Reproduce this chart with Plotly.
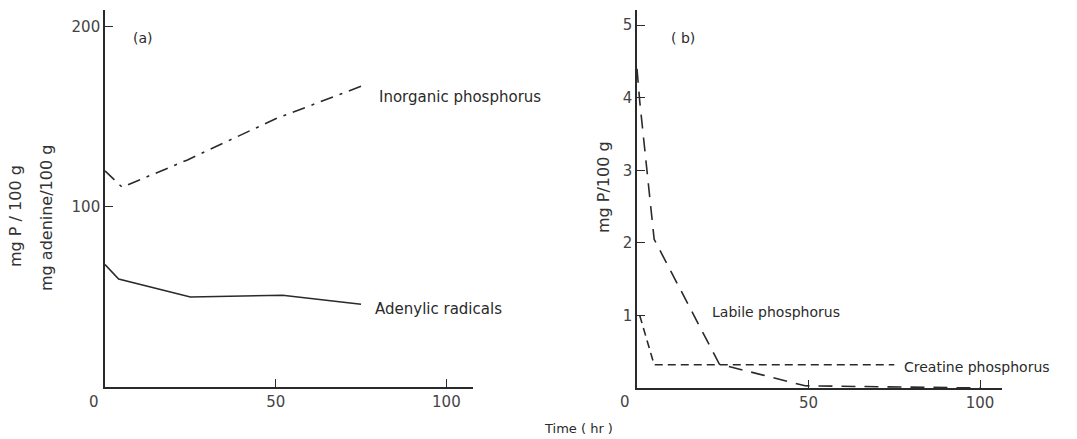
import plotly.graph_objects as go

# Panel (a) data
time_inorg = [0, 5, 24, 50, 75]
inorganic_p = [120, 111, 126, 149, 167]
time_aden = [0, 4, 25, 52, 75]
adenylic = [68, 60, 50, 51, 46]

# Panel (b) data
time_labile = [0, 0.8, 5, 24, 49, 100]
labile_p = [4.4, 3.95, 2.05, 0.33, 0.03, 0.0]
time_creat = [0.8, 5, 75]
creatine_p = [1.0, 0.32, 0.32]

a_yticks = [100, 200]
a_xticks = [50, 100]
b_yticks = [1, 2, 3, 4, 5]
b_xticks = [50, 100]

W, H = 1077, 439
INK = "#2a2a2a"
FONT = "DejaVu Sans"

def px(x):
    return x / W

def py(y):
    return 1 - y / H

fig = go.Figure()
line_w = 1.6
fig.add_trace(go.Scatter(x=time_inorg, y=inorganic_p, mode="lines",
                         line=dict(color=INK, width=line_w, dash="13px,7px,3px,7px"),
                         xaxis="x", yaxis="y", showlegend=False))
fig.add_trace(go.Scatter(x=time_aden, y=adenylic, mode="lines",
                         line=dict(color=INK, width=line_w),
                         xaxis="x", yaxis="y", showlegend=False))
fig.add_trace(go.Scatter(x=time_labile, y=labile_p, mode="lines",
                         line=dict(color=INK, width=line_w, dash="14px,9px"),
                         xaxis="x2", yaxis="y2", showlegend=False))
fig.add_trace(go.Scatter(x=time_creat, y=creatine_p, mode="lines",
                         line=dict(color=INK, width=line_w, dash="8px,5px"),
                         xaxis="x2", yaxis="y2", showlegend=False))

axis_common = dict(showline=True, linecolor=INK, linewidth=1.6, showgrid=False,
                   zeroline=False, ticks="inside", ticklen=8, tickcolor=INK,
                   tickwidth=1.2, tickfont=dict(family=FONT, size=15, color="#444"))

ya_bottom, ya_top = py(387), py(10)
fig.update_layout(
    width=W, height=H,
    margin=dict(l=0, r=0, t=0, b=0),
    paper_bgcolor="white", plot_bgcolor="white",
    xaxis=dict(domain=[px(105), px(473)], range=[0, 107.8], tickvals=a_xticks,
               anchor="y", **axis_common),
    yaxis=dict(domain=[ya_bottom, ya_top], range=[0, 209.4], tickvals=a_yticks,
               anchor="x", **axis_common),
    xaxis2=dict(domain=[px(637), px(1002)], range=[0, 106.4], tickvals=b_xticks,
                anchor="y2", **axis_common),
    yaxis2=dict(domain=[py(388), ya_top], range=[0, 5.21], tickvals=b_yticks,
                anchor="x2", **axis_common),
)

ann_font = dict(family=FONT, size=14, color=INK)
big_font = dict(family=FONT, size=15, color=INK)
title_font = dict(family=FONT, size=16, color="#333")
tick_font = dict(family=FONT, size=15, color="#444")

def ann(x, y, text, xanchor="center", font=ann_font, angle=0):
    return dict(x=px(x), y=py(y), text=text, xref="paper", yref="paper",
                xanchor=xanchor, yanchor="middle", textangle=angle,
                showarrow=False, font=font)

annotations = [
    ann(94, 402, "0", font=tick_font),
    ann(625, 402, "0", font=tick_font),
    ann(143, 38, "(a)"),
    ann(683, 38, "( b)"),
    ann(377, 97, "Inorganic phosphorus", xanchor="left", font=big_font),
    ann(373, 309, "Adenylic radicals", xanchor="left", font=big_font),
    ann(710, 312, "Labile phosphorus", xanchor="left"),
    ann(902, 367, "Creatine phosphorus", xanchor="left"),
    ann(16, 216, "mg P / 100 g", angle=-90, font=title_font),
    ann(47, 218, "mg adenine/100 g", angle=-90, font=title_font),
    ann(603, 187, "mg P/100 g", angle=-90, font=title_font),
    ann(578, 428, "Time ( hr )", font=dict(family=FONT, size=13, color=INK)),
]
fig.update_layout(annotations=annotations)

fig.write_html("out.html")
